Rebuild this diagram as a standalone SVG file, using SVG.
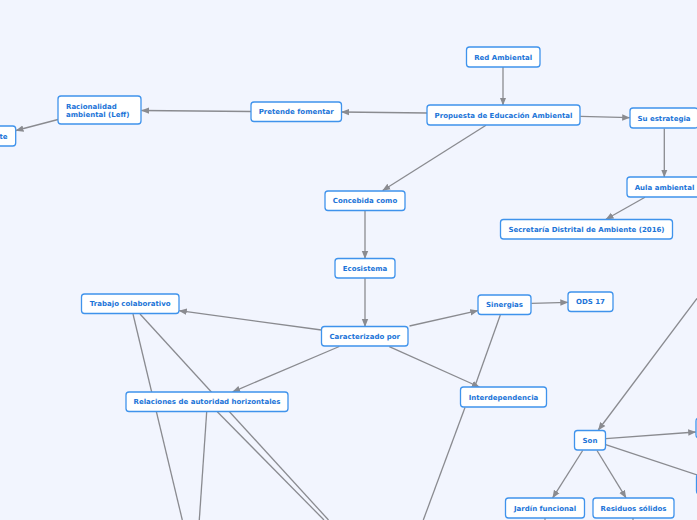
<svg xmlns="http://www.w3.org/2000/svg" width="697" height="520" viewBox="0 0 697 520">
<style>
.bg{fill:#f2f5fe}
.n rect{fill:#ffffff;stroke:#3f93ec;stroke-width:1.3}
.n text{font-family:"DejaVu Sans",Verdana,sans-serif;font-weight:bold;font-size:7px;fill:#1b74d8;text-anchor:middle}
#links line{stroke:#8a8b90;stroke-width:1.3;fill:none}
#links line.a{marker-end:url(#arr)}
</style>
<defs>
<marker id="arr" markerUnits="userSpaceOnUse" markerWidth="8" markerHeight="8" viewBox="0 0 8 8" refX="7.5" refY="4" orient="auto">
<path d="M0,0.8 L8,4 L0,7.2 Z" fill="#8a8b90"/>
</marker>
</defs>
<rect class="bg" x="0" y="0" width="697" height="520"/>
<g id="links">
<line class="a" x1="503" y1="67" x2="503" y2="105"/>
<line class="a" x1="427" y1="113" x2="341.5" y2="112"/>
<line class="a" x1="251" y1="111.5" x2="141.5" y2="110.5"/>
<line class="a" x1="58" y1="119.5" x2="16" y2="130.5"/>
<line class="a" x1="580.5" y1="116.3" x2="629.7" y2="117.7"/>
<line class="a" x1="664.3" y1="128.5" x2="664.3" y2="177"/>
<line class="a" x1="645" y1="197.3" x2="606" y2="219.3"/>
<line class="a" x1="486" y1="125.3" x2="382.7" y2="190.5"/>
<line class="a" x1="365" y1="210.5" x2="365" y2="258.5"/>
<line class="a" x1="365" y1="278.3" x2="365" y2="326.5"/>
<line class="a" x1="321.5" y1="330" x2="179.3" y2="310.7"/>
<line class="a" x1="339.3" y1="346.5" x2="232.7" y2="391.8"/>
<line class="a" x1="409.5" y1="326" x2="477.8" y2="310.7"/>
<line class="a" x1="389.3" y1="346.7" x2="479.3" y2="387"/>
<line class="a" x1="531.5" y1="303.3" x2="567.8" y2="302.3"/>
<line x1="500.3" y1="315" x2="475" y2="386"/>
<line x1="465" y1="407.5" x2="423.3" y2="520"/>
<line x1="133" y1="314" x2="182.3" y2="520"/>
<line x1="140" y1="314" x2="328.5" y2="520"/>
<line x1="206.7" y1="411.7" x2="199.3" y2="520"/>
<line x1="217.3" y1="411.7" x2="324" y2="520"/>
<line class="a" x1="697" y1="298.3" x2="598.3" y2="430"/>
<line class="a" x1="605.7" y1="438.7" x2="695.7" y2="432"/>
<line x1="605.7" y1="444.7" x2="697" y2="475"/>
<line class="a" x1="582.7" y1="450.5" x2="552.7" y2="497.8"/>
<line class="a" x1="597" y1="450.5" x2="626" y2="497.8"/>
<line x1="545" y1="518" x2="545" y2="520"/>
<line x1="633" y1="518" x2="633" y2="520"/>
</g>
<g id="n-red" class="n"><rect x="466.5" y="47" width="73.5" height="20" rx="3"/><text x="503.2" y="59.5">Red Ambiental</text></g>
<g id="n-propuesta" class="n"><rect x="427" y="105" width="153" height="20" rx="3"/><text x="503.5" y="117.5">Propuesta de Educación Ambiental</text></g>
<g id="n-estrategia" class="n"><rect x="630" y="108" width="68" height="20" rx="3"/><text x="664" y="120.5">Su estrategia</text></g>
<g id="n-aula" class="n"><rect x="627" y="177" width="75" height="20" rx="3"/><text x="664.5" y="189.5">Aula ambiental</text></g>
<g id="n-secretaria" class="n"><rect x="500.5" y="219.5" width="172" height="19.5" rx="3"/><text x="586.5" y="231.8">Secretaría Distrital de Ambiente (2016)</text></g>
<g id="n-concebida" class="n"><rect x="325" y="191" width="80" height="19.5" rx="3"/><text x="365" y="203.3">Concebida como</text></g>
<g id="n-ecosistema" class="n"><rect x="335" y="258.5" width="60" height="19.5" rx="3"/><text x="365" y="270.8">Ecosistema</text></g>
<g id="n-pretende" class="n"><rect x="251" y="102" width="90.5" height="19.5" rx="3"/><text x="296.2" y="114.3">Pretende fomentar</text></g>
<g id="n-racionalidad" class="n"><rect x="58" y="96" width="83" height="28" rx="3"/><text x="66" y="108.8" style="text-anchor:start">Racionalidad</text><text x="66" y="116.8" style="text-anchor:start">ambiental (Leff)</text></g>
<g id="n-te" class="n"><rect x="-40" y="126" width="55.7" height="20" rx="3"/><text x="7.5" y="138.5" style="text-anchor:end">te</text></g>
<g id="n-trabajo" class="n"><rect x="81.5" y="294" width="97.5" height="19.5" rx="3"/><text x="130.2" y="306.3">Trabajo colaborativo</text></g>
<g id="n-relaciones" class="n"><rect x="126" y="392" width="162" height="19.5" rx="3"/><text x="207" y="404.3">Relaciones de autoridad horizontales</text></g>
<g id="n-caracterizado" class="n"><rect x="321.5" y="326.5" width="86.5" height="19.5" rx="3"/><text x="364.7" y="338.8">Caracterizado por</text></g>
<g id="n-sinergias" class="n"><rect x="478" y="295" width="53" height="19.5" rx="3"/><text x="504.5" y="307.3">Sinergias</text></g>
<g id="n-ods" class="n"><rect x="568" y="292" width="45" height="19.5" rx="3"/><text x="590.5" y="304.3">ODS 17</text></g>
<g id="n-interdependencia" class="n"><rect x="460.5" y="387" width="86" height="20" rx="3"/><text x="503.5" y="399.5">Interdependencia</text></g>
<g id="n-son" class="n"><rect x="574.5" y="430.5" width="31" height="19.5" rx="3"/><text x="590" y="442.8">Son</text></g>
<g id="n-jardin" class="n"><rect x="505.5" y="498" width="79" height="20" rx="3"/><text x="545" y="510.5">Jardín funcional</text></g>
<g id="n-residuos" class="n"><rect x="593" y="498" width="81" height="20" rx="3"/><text x="633.5" y="510.5">Residuos sólidos</text></g>
<g id="n-right1" class="n"><rect x="696" y="418" width="40" height="20" rx="3"/></g>
<g id="n-right2" class="n"><rect x="696.5" y="474" width="40" height="20" rx="3"/></g>
</svg>
